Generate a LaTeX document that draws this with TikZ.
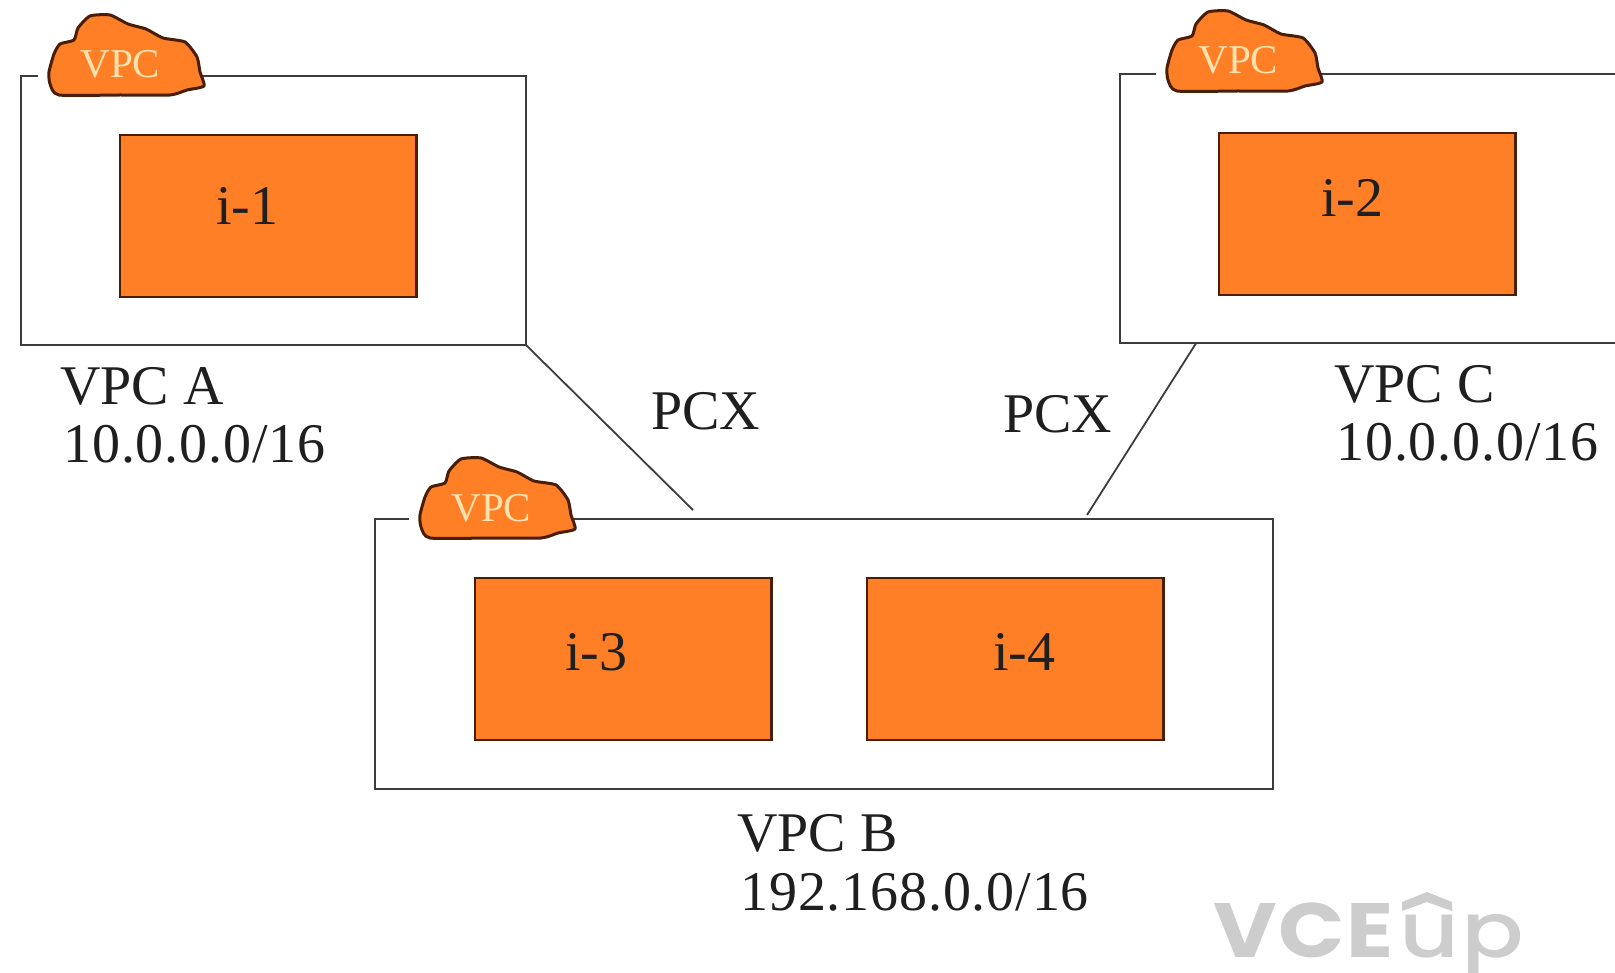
\documentclass[tikz,border=0pt]{standalone}
\usepackage{fontspec}
\usetikzlibrary{calc}
\setmainfont{Liberation Serif}
\newfontfamily\wmfont{Poppins}[UprightFont=* Medium,LetterSpace=2]
\newfontfamily\wmfontb{Poppins}[LetterSpace=2]
\definecolor{boxline}{HTML}{3C3C3C}
\definecolor{vorange}{HTML}{FF7F27}
\definecolor{cloudline}{HTML}{4A1D05}
\definecolor{vpclight}{HTML}{FFE2AE}
\definecolor{wm}{HTML}{CDCDCD}
\newcommand{\vpccloud}[3]{%
  \begin{scope}[shift={(#1,#2)}]
    \filldraw[cloudstyle] plot[smooth cycle,tension=.35] coordinates {
      (50,84)(49,72)(54,54)(60,44)(74,40)(78,28)(90,16)(110,15)(128,24)(146,29)(163,38)(185,42)(197,57)(200,72)(204,86)(187,90)(170,95)(120,95)(59,95)};
    \node[vpctext] (#3) at (80,78) {VPC};
  \end{scope}}
\tikzset{
  x=.5pt,y=-.5pt,
  vpcbox/.style={draw=boxline,line width=1.45pt,fill=white,inner sep=0pt,outer sep=0pt,anchor=north west},
  instance/.style={draw=cloudline,line width=1.45pt,fill=vorange,inner sep=0pt,outer sep=0pt,anchor=north west,minimum width=148.3pt,minimum height=81pt},
  cloudstyle/.style={draw=cloudline,fill=vorange,line width=1.5pt,line join=round},
  vpctext/.style={text=vpclight,font=\fontsize{20.5}{20.5}\selectfont,anchor=base west,inner sep=0pt},
  lbl/.style={text=black!88,font=\fontsize{28}{28}\selectfont,anchor=base west,inner sep=0pt},
  numlbl/.style={lbl,font=\fontsize{28}{28}\selectfont\addfontfeature{LetterSpace=1.5}},
  peer/.style={draw=boxline,line width=.9pt},
  gap/.style={draw=white,line width=2.8pt}
}
\begin{document}
\begin{tikzpicture}
\clip (0,0) rectangle (1615,973);
\fill[white] (0,0) rectangle (1615,973);
% peering connectors' free ends
\coordinate (pa) at (693,510);
\coordinate (pc) at (1087,515);
% VPC boxes
\node[vpcbox,minimum width=252.5pt,minimum height=134.5pt] (vpcA) at (21,76) {};
\node[vpcbox,minimum width=300pt,minimum height=134.5pt] (vpcC) at (1120,74) {};
\node[vpcbox,minimum width=449pt,minimum height=135pt] (vpcB) at (375,519) {};
% connectors
\draw[peer] (vpcA.south east) -- (pa);
\draw[peer] ($(vpcC.south west)!0.127!(vpcC.south east)$) -- (pc);
% gaps next to the clouds
\draw[gap] (38,76) -- (56,76);
\draw[gap] (1156,74) -- (1174,74);
\draw[gap] (409,519) -- (427,519);
% instances
\node[instance] (i1) at (120,135) {};
\node[instance] (i2) at (1219,133) {};
\node[instance] (i3) at (475,578) {};
\node[instance] (i4) at (867,578) {};
\node[lbl] (ti1) at (216,225) {i-1};
\node[lbl] (ti2) at (1321,217) {i-2};
\node[lbl] (ti3) at (565,670) {i-3};
\node[lbl] (ti4) at (993,670) {i-4};
% clouds
\vpccloud{0}{0}{ca}
\vpccloud{1118}{-4}{cc}
\vpccloud{371}{443}{cb}
% labels
\node[lbl] (la1) at (60,404) {VPC A};
\node[numlbl] (la2) at (63,462) {10.0.0.0/16};
\node[lbl] (lc1) at (1334,402) {VPC C};
\node[numlbl] (lc2) at (1336,460) {10.0.0.0/16};
\node[lbl] (lb1) at (737,851) {VPC B};
\node[numlbl] (lb2) at (740,910) {192.168.0.0/16};
\node[lbl] (px1) at (651,429) {PCX};
\node[lbl] (px2) at (1003,432) {PCX};
% watermark
\node[anchor=base west,inner sep=0pt,text=wm,font=\fontsize{38.5}{38.5}\selectfont] (wmark) at (1213,957) {\scalebox{1.13}[1]{\wmfontb\bfseries VCE}\kern3pt\scalebox{1.2}[1]{\wmfont up}};
\fill[wm] (1402,902) -- (1427,892) -- (1452,902) -- (1452,911) -- (1427,902) -- (1402,911) -- cycle;
\end{tikzpicture}
\end{document}
